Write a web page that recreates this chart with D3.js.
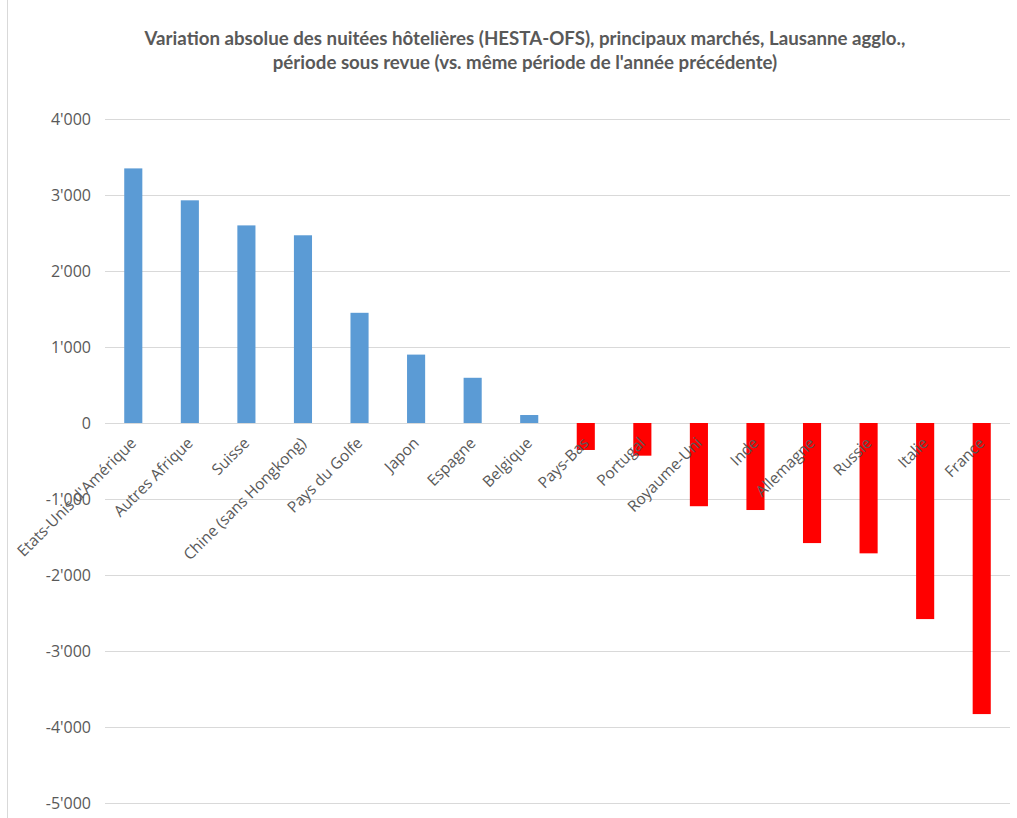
<!DOCTYPE html>
<html>
<head>
<meta charset="utf-8">
<script src="https://cdnjs.cloudflare.com/ajax/libs/d3/7.8.5/d3.min.js"></script>
<style>
  body { margin: 0; background: #fff; }
  .title { font-family: Lato, "Liberation Sans", sans-serif; font-weight: bold; font-size: 18.7px; fill: #595959; }
  .tick text { font-family: "Open Sans", sans-serif; fill: #595959; }
</style>
</head>
<body>
<div id="chart"></div>
<script>
// markets and absolute variation of hotel nights
let markets = ["Etats-Unis d'Amérique", "Autres Afrique", "Suisse", "Chine (sans Hongkong)",
    "Pays du Golfe", "Japon", "Espagne", "Belgique", "Pays-Bas", "Portugal", "Royaume-Uni",
    "Inde", "Allemagne", "Russie", "Italie", "France"];
let variation = [3350, 2930, 2600, 2470, 1450, 900, 595, 105, -355, -430, -1095,
    -1145, -1580, -1715, -2580, -3830];
let yTicks = [4000, 3000, 2000, 1000, 0, -1000, -2000, -3000, -4000, -5000];
let titleLines = ["Variation absolue des nuitées hôtelières (HESTA-OFS), principaux marchés, Lausanne agglo.,",
    "période sous revue (vs. même période de l'année précédente)"];

let totalW = 1017, totalH = 818;
let margin = {top: 119, right: 7, bottom: 15, left: 105};
let width = totalW - margin.left - margin.right;
let height = 803 - margin.top;

let svg = d3.select("#chart").append("svg")
    .attr("width", totalW)
    .attr("height", totalH);

// chart border (left edge visible)
svg.append("line")
    .attr("x1", 7.5).attr("x2", 7.5)
    .attr("y1", 0).attr("y2", totalH)
    .attr("stroke", "#d9d9d9");

svg.selectAll(".title").data(titleLines).enter()
    .append("text")
    .attr("class", "title")
    .attr("x", 525)
    .attr("y", (d, i) => 45 + i * 24)
    .attr("text-anchor", "middle")
    .text(d => d);

let g = svg.append("g")
    .attr("transform", "translate(" + margin.left + "," + margin.top + ")");

let x = d3.scaleBand()
    .domain(markets)
    .range([0, width])
    .paddingInner(0.68)
    .paddingOuter(0.34);

let y = d3.scaleLinear()
    .domain([-5000, 4000])
    .range([height, 0]);

let locale = d3.formatLocale({decimal: ".", thousands: "'", grouping: [3], currency: ["", ""], minus: "-"});
let fmt = locale.format(",");

// gridlines + y labels
let yAxis = d3.axisLeft(y)
    .tickValues(yTicks)
    .tickSize(-width)
    .tickPadding(14)
    .tickFormat(fmt);

let yGroup = g.append("g").call(yAxis);
yGroup.select(".domain").remove();
yGroup.selectAll(".tick line").attr("stroke", "#d9d9d9");
yGroup.selectAll(".tick text").style("font-size", "16px");

// bars
g.selectAll(".bar").data(variation).enter()
    .append("rect")
    .attr("class", "bar")
    .attr("x", (d, i) => x(markets[i]))
    .attr("width", x.bandwidth())
    .attr("y", d => y(Math.max(0, d)))
    .attr("height", d => Math.abs(y(d) - y(0)))
    .attr("fill", d => d >= 0 ? "#5b9bd5" : "#ff0000");

// category labels along zero line
let xAxis = d3.axisBottom(x).tickSize(0).tickPadding(0);
let xGroup = g.append("g")
    .attr("transform", "translate(0," + y(0) + ")")
    .call(xAxis);
xGroup.select(".domain").remove();
xGroup.selectAll(".tick text")
    .style("font-size", "15.5px")
    .attr("text-anchor", "end")
    .attr("dy", null)
    .attr("y", null)
    .attr("transform", "translate(4,21) rotate(-45)");
</script>
</body>
</html>
